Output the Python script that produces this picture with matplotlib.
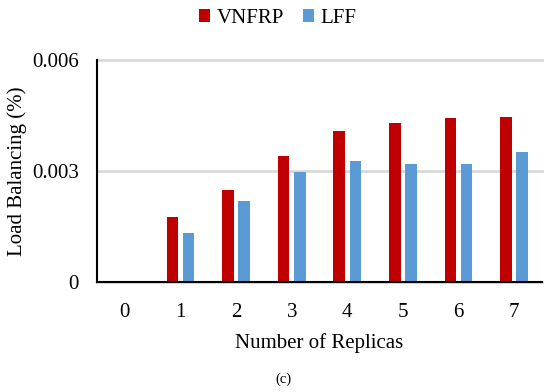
import numpy as np
import matplotlib.pyplot as plt

replicas = ["0", "1", "2", "3", "4", "5", "6", "7"]
vnfrp = [0, 0.00177, 0.00250, 0.00341, 0.00408, 0.00429, 0.00444, 0.00447]
lff = [0, 0.00132, 0.00219, 0.00298, 0.00328, 0.00319, 0.00319, 0.00352]

plt.rcParams["font.family"] = ["Liberation Serif", "DejaVu Serif"]

fig = plt.figure(figsize=(5.5, 3.92), dpi=100)
ax = fig.add_axes([0.1764, 0.2798, 0.8091, 0.5672])

x = np.arange(len(replicas))
w = 0.21
ax.bar(x - 0.145, vnfrp, w, color="#C00000", label="VNFRP", zorder=3)
ax.bar(x + 0.145, lff, w, color="#5B9BD5", label="LFF", zorder=3)

ax.set_xlim(-0.5, len(replicas) - 0.5)
ax.set_ylim(0, 0.006)
ax.set_yticks([0, 0.003, 0.006])
ax.set_yticklabels(["0", "0.003", "0.006"])
ax.set_xticks(x)
ax.set_xticklabels(replicas)
ax.tick_params(axis="both", length=0, labelsize=15)
ax.tick_params(axis="x", pad=15)
ax.tick_params(axis="y", pad=13)

ax.yaxis.grid(True, color="#D9D9D9", linewidth=2)
for line in ax.get_ygridlines():
    line.set_clip_on(False)
ax.set_axisbelow(True)

ax.spines["top"].set_visible(False)
ax.spines["right"].set_visible(False)
ax.spines["left"].set_linewidth(1.5)
ax.spines["bottom"].set_linewidth(1.5)
ax.spines["bottom"].set_zorder(4)

ax.set_ylabel("Load Balancing (%)", fontsize=15, labelpad=4)
ax.set_xlabel("Number of Replicas", fontsize=15, labelpad=8)

fig.legend(loc="upper center", bbox_to_anchor=(0.505, 1.025), ncol=2, frameon=False,
           fontsize=15, handlelength=0.55, handleheight=0.55, handletextpad=0.3,
           columnspacing=0.9)

fig.text(0.515, 0.032, "(c)", fontsize=10.5, ha="center", va="center")

fig.savefig("out.png", dpi=100)
